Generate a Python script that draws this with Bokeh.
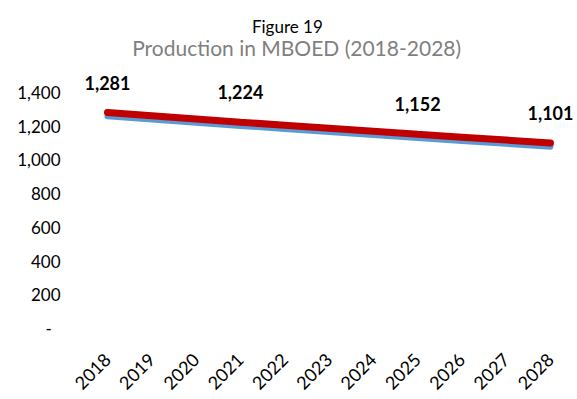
from math import pi
from bokeh.plotting import figure
from bokeh.models import (Range1d, FixedTicker, ColumnDataSource, LabelSet,
                          Label, NumeralTickFormatter)
from bokeh.core.properties import value
from bokeh.embed import file_html
from bokeh.resources import INLINE

# ---- data ----
years = [2018, 2019, 2020, 2021, 2022, 2023, 2024, 2025, 2026, 2027, 2028]
production = [1281, 1262, 1243, 1224, 1206, 1188, 1170, 1152, 1135, 1118, 1101]
reference = [1259, 1240, 1221, 1202, 1184, 1166, 1148, 1130, 1113, 1096, 1079]
label_years = [2018, 2021, 2025, 2028]
label_values = [1281, 1224, 1152, 1101]
y_ticks = [0, 200, 400, 600, 800, 1000, 1200, 1400]
caption = "Figure 19"
chart_title = "Production in MBOED (2018-2028)"

FONT = "Lato"

p = figure(width=577, height=399, output_backend="svg", toolbar_location=None,
           x_range=Range1d(2017.165, 2028.61), y_range=Range1d(0, 1946),
           min_border_left=70, min_border_right=0, min_border_bottom=71,
           min_border_top=0)
p.outline_line_color = None
p.xgrid.visible = False
p.ygrid.visible = False
p.background_fill_color = "white"
p.border_fill_color = "white"

# titles (placed in the empty space above the data)
p.add_layout(Label(x=2022.06, y=1792, text=caption, text_align="center",
                   text_baseline="alphabetic", text_font=FONT,
                   text_font_size="17px", text_color="#000000"))
p.add_layout(Label(x=2022.27, y=1667, text=chart_title, text_align="center",
                   text_baseline="alphabetic", text_font=FONT,
                   text_font_size="21px", text_color="#7f7f7f"))

# y axis
ya = p.yaxis[0]
ya.ticker = FixedTicker(ticks=y_ticks)
ya.formatter = NumeralTickFormatter(format="0,0")
ya.major_label_overrides = {0: "-\u00a0\u00a0"}
ya.axis_line_color = None
ya.major_tick_line_color = None
ya.minor_tick_line_color = None
ya.major_label_standoff = 4
ya.major_label_text_font = FONT
ya.major_label_text_font_size = "17px"
ya.major_label_text_color = "#000000"

# x axis
xa = p.xaxis[0]
xa.ticker = FixedTicker(ticks=years)
xa.major_label_orientation = pi / 4
xa.axis_line_color = None
xa.major_tick_line_color = None
xa.minor_tick_line_color = None
xa.major_label_standoff = 22
xa.major_label_text_font = FONT
xa.major_label_text_font_size = "18px"
xa.major_label_text_color = "#000000"

# lines
p.line(years, reference, line_width=6, line_color="#5b9bd5", line_cap="round")
p.line(years, production, line_width=7, line_color="#c00000", line_cap="round")

# data labels
src = ColumnDataSource(dict(x=label_years, y=label_values,
                            t=[f"{v:,}" for v in label_values]))
p.add_layout(LabelSet(x="x", y="y", text="t", source=src, y_offset=30,
                      text_align="center", text_baseline="middle",
                      text_font=value(FONT), text_font_size=value("18px"),
                      text_font_style=value("bold"), text_color=value("#000000")))

open("out.html", "w").write(file_html(p, INLINE))
